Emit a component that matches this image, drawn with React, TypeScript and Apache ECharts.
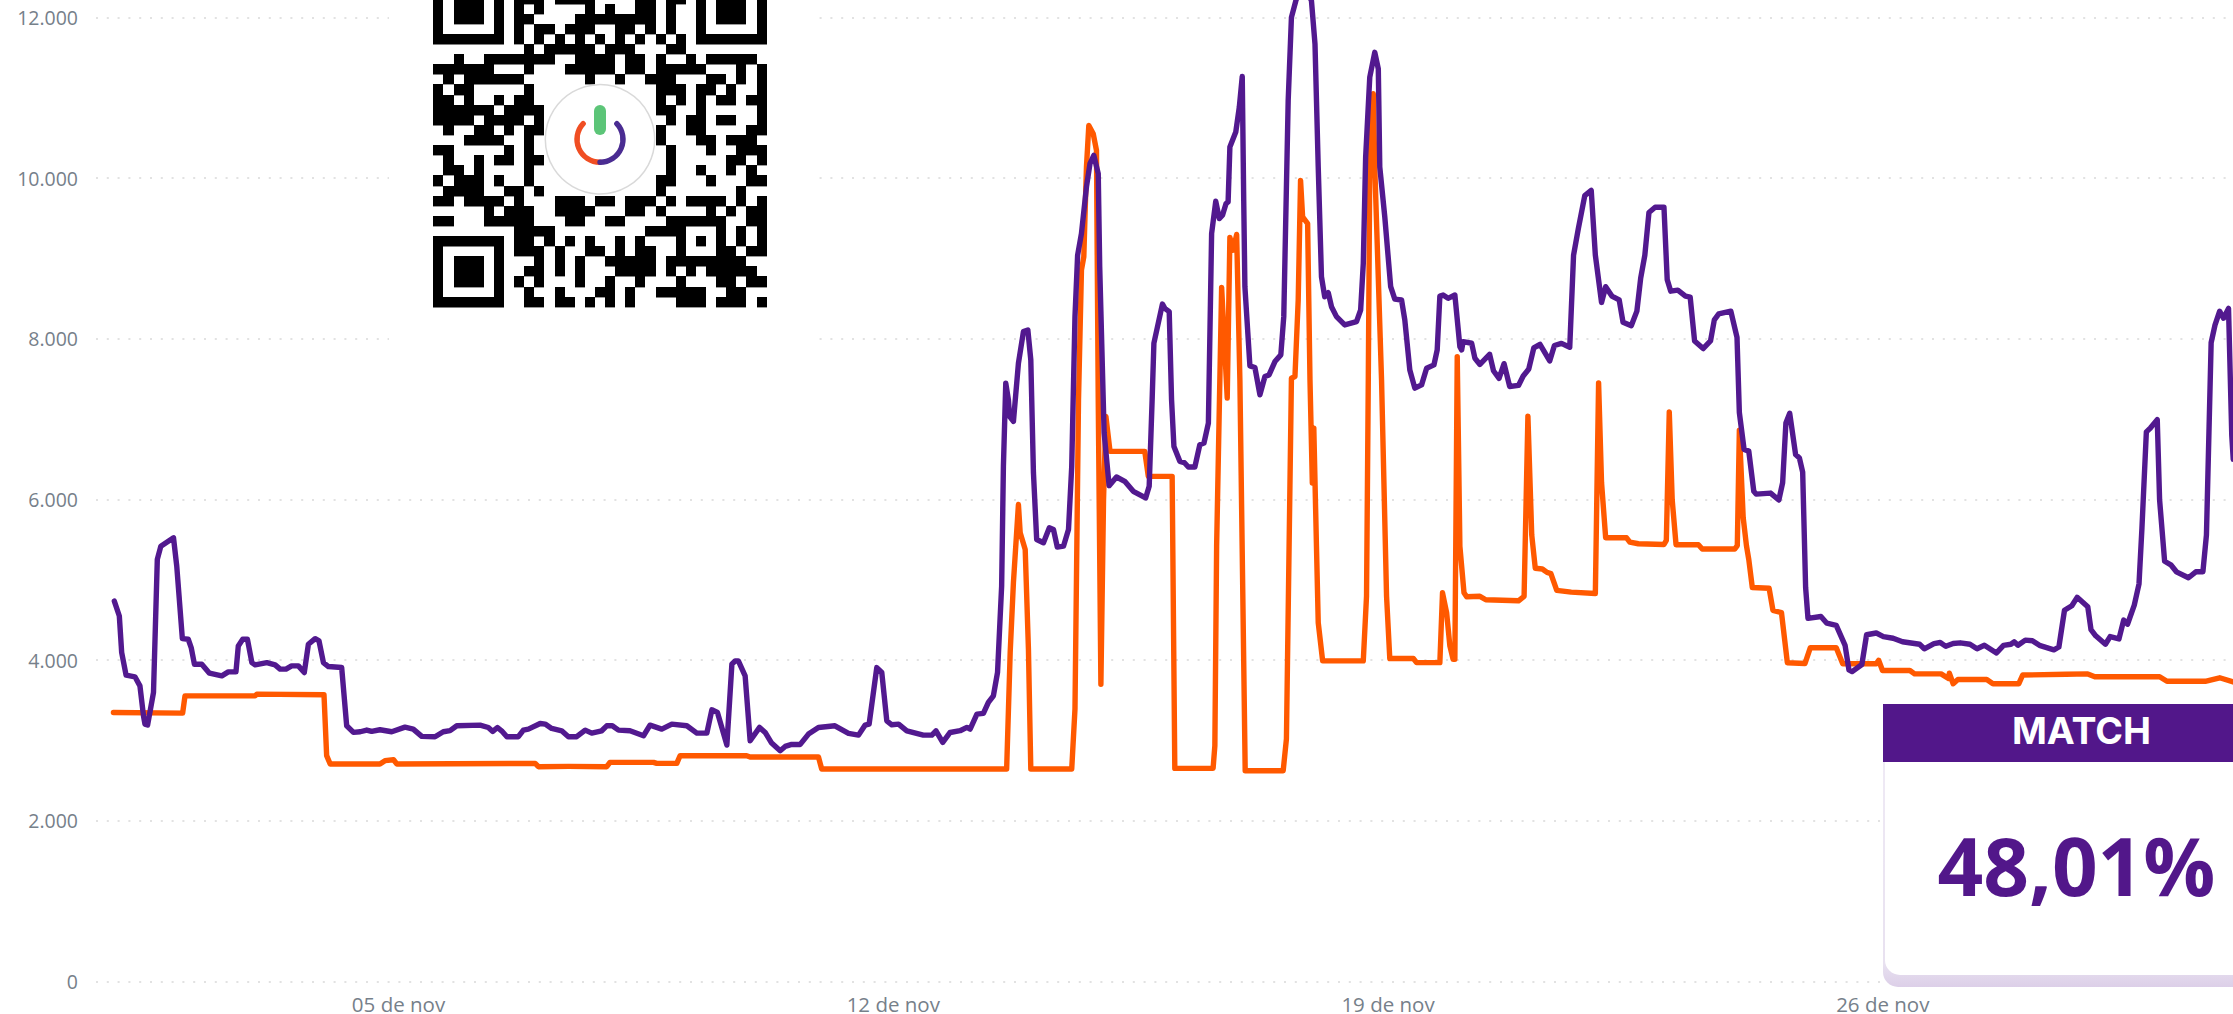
import React, { useEffect, useRef } from "react";
import * as echarts from "echarts";

// x = hours since 01 Nov 00:00
const purpleHours = [-0.5,1.2,2,3.5,6.5,8.2,9.4,9.9,10.8,12.8,14.1,15.3,19.6,20.7,22.6,24.6,25.6,26.7,29.2,31.8,36,38.2,40.8,41.6,43.1,44.7,46.2,47.3,51.3,54.1,55.8,57.8,59.7,62,64,65.4,67.7,69,70.5,72.2,76.7,78.4,80.7,83,85.2,86.9,89.7,93.7,98.2,101,103.9,108.4,111.2,113.5,115.8,123.7,126.5,128,129.6,131,132.8,136.7,138.4,140.1,144.1,145.8,148,151.4,153.7,156.5,159.4,161.6,165,166.7,168.6,170.7,174.6,179.2,181.4,185.4,188.8,193.9,197.3,200.7,202.4,204.3,207.5,209.2,210.3,211.4,213.7,215.4,218.6,220.5,222.7,225.6,227.3,229.5,232.4,235.2,238.6,244.2,248.8,252.2,254.4,255.8,258.4,260.1,261.8,263.5,265.8,268.6,274.2,277.1,278.5,280.8,283.3,286.7,289,290.1,292.4,294.6,296.3,298,299.4,300.8,301.4,302.2,303.1,303.5,304.8,306.5,308.2,309.7,310.7,311.6,312.7,315,317,318.4,319.7,321.8,323.5,324.6,325.7,326.6,327.9,329.6,330.8,332.1,333.6,334.1,335.6,337.3,339.8,342.6,345.5,349.7,350.9,351.9,352.5,355.4,356.2,357.7,358.5,359.3,361.3,362.8,364.2,366.4,368.1,369.5,371,372.1,373.5,374.7,375.8,377,377.7,378.3,380.3,381.5,382.5,383,383.4,385.1,386.8,388.5,390.2,391.6,393.6,395.6,396.6,398.1,399.2,400.7,403,406,407.2,408.3,409.4,410.5,411.7,412.8,414.5,417.3,421.3,422.7,423.6,424.4,425.8,427.5,428.7,429.2,430.9,432.9,434.3,436.6,437.7,439.4,441.1,443.4,445.1,447.6,448.7,449.6,450.7,452.4,454.7,456.4,457,457.5,460.4,461.5,463.2,466.5,467.8,469.7,471.4,473.3,476.3,477.9,479.8,481.5,483.6,486.9,488.5,490.9,493.7,495,496.6,498.8,501,502.4,504.5,505.9,508,510.5,511.8,514.6,516.5,517.8,519.2,520.6,522.7,525.7,526.8,528,530.4,533,534.6,536.1,539,541.5,542.8,544.3,548.4,550.5,551.3,552.9,554.5,556.2,557,561.9,564.7,566,567.1,568.4,570.4,571.7,572.8,573.8,574.6,579,581,584.2,587.2,588.5,589.6,592.9,594.5,597.8,600.2,603.5,606.7,612.5,614.1,617.4,619.5,621.4,623.9,626.3,629.6,632,634.5,638.6,641,643.5,644.6,645.9,648.4,650.8,653.2,658.1,659.8,661.7,664.2,666,669.6,670.7,672.3,675.6,677.2,680.2,681.8,683.1,685.4,687,688,689.5,690.8,693.2,694,695.7,697.8,699.7,703.8,706.3,708.7,709.9,711.5,712.8,714.4,715.7,717.4,718.5,719];
const purpleValues = [4736,4550,4095,3813,3793,3680,3308,3204,3192,3598,5254,5419,5523,5171,4268,4260,4157,3950,3950,3838,3805,3854,3854,4177,4260,4260,3970,3941,3970,3941,3888,3888,3929,3929,3846,4198,4268,4240,3970,3921,3908,3184,3101,3109,3130,3113,3134,3109,3167,3142,3051,3047,3109,3122,3184,3192,3162,3113,3162,3121,3047,3047,3129,3142,3212,3204,3150,3121,3047,3047,3129,3092,3121,3183,3183,3129,3121,3059,3191,3142,3204,3183,3092,3092,3382,3349,2943,3949,3990,3990,3804,2997,3163,3100,2968,2873,2926,2951,2951,3080,3162,3183,3088,3067,3191,3204,3908,3846,3245,3196,3204,3121,3067,3067,3121,2976,3100,3122,3163,3142,3329,3337,3474,3556,3846,4923,6413,7448,7241,7034,6972,7696,8090,8110,7738,6330,5502,5461,5647,5627,5407,5419,5627,6413,8276,9042,9311,9891,10180,10284,10056,8897,6827,6172,6280,6226,6102,6019,6164,7241,7945,8433,8379,8338,7241,6661,6475,6460,6404,6404,6682,6702,6951,9311,9713,9497,9539,9684,9704,10387,10574,10884,11265,9725,8649,7663,7643,7303,7531,7551,7717,7800,8276,10967,12002,12209,12450,12209,11671,10139,8773,8524,8574,8400,8276,8173,8214,8359,8938,10263,11257,11567,11360,10139,9518,8649,8495,8483,8235,7613,7386,7427,7634,7676,7862,8533,8545,8504,8545,7903,7862,7965,7945,7758,7681,7808,7603,7508,7691,7407,7420,7538,7625,7887,7931,7726,7917,7944,7895,9041,9368,9782,9847,9041,8453,8649,8532,8484,8205,8162,8345,8758,9041,9573,9638,9638,8737,8593,8606,8532,8519,7974,7879,7974,8236,8310,8344,8018,7082,6624,6602,6102,6067,6080,5993,6211,6951,7073,6559,6516,6341,4904,4521,4543,4460,4433,4185,3880,3858,3946,4316,4338,4294,4273,4229,4198,4142,4207,4220,4172,4207,4216,4198,4142,4185,4090,4185,4198,4229,4185,4250,4242,4185,4129,4164,4621,4678,4782,4665,4381,4303,4198,4294,4264,4499,4447,4686,4948,5644,6842,6886,6994,5993,5231,5187,5100,5026,5100,5100,5557,7953,8170,8344,8257,8379,6798,6500];

const orangeHours = [-0.8,22.7,23.5,47.3,47.9,70.7,71.6,72.8,89.7,91.4,94.3,95.4,142.4,143.5,153.7,166.7,167.8,182.6,183.7,190.5,191.6,214.2,215.4,238.6,239.7,302.5,303.7,304.8,306.5,307.1,308.8,309.9,310.7,324.6,325.7,326.9,327.9,328.7,329.6,330.4,331.9,333,333.6,334.5,335.4,336.2,337.6,349.4,350.6,358.7,359.6,372.6,373.2,373.8,375.5,377.4,378.3,379.4,380.6,381.7,383.5,396.4,397.5,399.2,400.4,401.5,402.3,403,404.7,405.5,406.3,406.8,407.7,408.3,409.8,423.6,424.7,425.3,425.8,427,427.5,429.8,431.5,432.6,440.6,441.7,449.6,450.5,451.9,453,454.1,454.7,455.5,456.4,457.8,458.7,463.2,465.2,476.3,478.2,479.5,480.8,482,484.4,486,487.3,489.3,494.2,502.4,503.5,504.5,505.9,513,514.1,517,525.7,526.5,527.5,528.5,529.8,537.4,538.7,549.7,550.6,551.3,552.6,553.7,554.5,555.7,561.4,562.7,565.6,567.6,573.6,575.4,584.2,586.4,597.8,598.6,599.9,609.2,610.8,619.8,622.3,622.6,623.9,625.5,635.3,637.4,646.2,647.5,662.2,669.6,672,694,696.5,709.5,714.4,719];
const orangeValues = [3349,3341,3556,3556,3577,3569,2811,2708,2708,2749,2761,2708,2715,2674,2678,2674,2728,2728,2715,2715,2811,2811,2794,2794,2645,2646,4095,4964,5937,5585,5378,4136,2646,2646,3391,7241,8855,9021,10139,10656,10553,10346,7241,3701,5999,7034,6599,6599,6288,6288,2653,2653,2935,5419,8640,7262,9261,9104,9299,7489,2624,2624,3018,7510,7531,8483,9973,9518,9435,7489,6206,6889,5419,4467,3991,3991,4798,7489,10139,11050,10139,7489,4798,4020,4020,3970,3970,4839,4591,4177,4011,4011,7779,5419,4839,4790,4795,4752,4739,4795,7038,5558,5144,5135,5092,5078,4869,4847,4830,7452,6211,5523,5523,5470,5449,5440,5492,7090,5993,5436,5436,5383,5383,5427,6864,5775,5427,5253,4904,4895,4621,4591,3968,3959,4155,4155,3955,3955,3998,3872,3872,3829,3829,3772,3837,3707,3759,3759,3707,3707,3815,3824,3829,3794,3794,3737,3737,3781,3729];

const tickHours = [96, 264, 432, 600];
const tickLabels = ["05 de nov", "12 de nov", "19 de nov", "26 de nov"];
const matchTitle = "MATCH";
const matchValue = "48,01%";

// black runs of the QR code, from row 2 on (rows 0 and 1 lie above the page)
const qrRows = [
  "0,2-4,6,8-10,12-15,20-21,23-24,26,28-30,32",
  "0,2-4,6,8,10,15,17,20-21,23,26,28-30,32",
  "0,2-4,6,8-9,14-21,23,26,28-30,32",
  "0,6,8,10-11,13-15,18-19,21,23,26,32",
  "0-6,8,10,12,14,16,18,20,22,24,26-32",
  "9,11-15,17-19,23-24",
  "2,5-11,14-17,19-20,22,25,27-31",
  "0-5,9,13-17,19-20,22-26,30,32",
  "1,3-8,15,18,21-23,27-28,30,32",
  "0,2-3,9,22-24,26-27,29,32",
  "0-1,3,6,8-9,22,24,26,28-29,31-32",
  "0-5,7-10,22-23,26,32",
  "0-3,5-8,10,23,25-26,28-29,32",
  "1,4-5,7,9-10,22,25-26,31-32",
  "3-6,9,22,26-27,29-31",
  "0-1,7,9,23,27,30-32",
  "1,4,6-7,9-10,23,29-30,32",
  "1-2,4,9,23,26,29,31",
  "0,2-4,6,9,22-23,27,31-32",
  "1-4,7-8,10,22,30",
  "0-1,3-6,8,12-14,16-17,19-21,23,25-28,30,32",
  "5,7-9,12-15,19-20,22,27,29,31-32",
  "0-1,5-9,13-14,17-18,23-28,31-32",
  "8-11,21-24,28,30,32",
  "0-6,8-9,11,13,15,18,20,24,26,28,30,32",
  "0,6,8-10,12,15-16,18,20-21,24,28-29,31-32",
  "0,2-4,6,10,12,14,17-21,23-30",
  "0,2-4,6,9-10,12,14,18-21,23,25,27-31",
  "0,2-4,6,8,10,14,17,20,24,28-29,31-32",
  "0,6,9,12,16-17,19,22-26,29-30",
  "0-6,9-10,12-13,15,17,19,24-26,28-30,32",
];

const zip = (xs: number[], ys: number[]) => xs.map((x, i) => [x, ys[i]]);

function qrElements() {
  const cell = 10.1, x0 = 433.3, y0 = -6.4;
  const out: any[] = [];
  qrRows.forEach((row, r) => {
    const top = Math.round(y0 + r * cell);
    const bottom = Math.round(y0 + (r + 1) * cell);
    row.split(",").forEach((run) => {
      const [a, b] = run.split("-").map(Number);
      const end = b === undefined ? a : b;
      const left = Math.round(x0 + a * cell);
      const right = Math.round(x0 + (end + 1) * cell);
      out.push({
        type: "rect", z: 101, silent: true,
        shape: { x: left, y: top, width: right - left, height: bottom - top + 0.4 },
        style: { fill: "#000" },
      });
    });
  });
  return out;
}

const font = "'Open Sans', sans-serif";

export default function App() {
  const ref = useRef<HTMLDivElement>(null);
  useEffect(() => {
    document.body.style.margin = "0";
    const chart = echarts.init(ref.current!, undefined, { renderer: "svg" });
    const cx = 600, cy = 139.3;
    chart.setOption({
      animation: false,
      backgroundColor: "#fff",
      grid: { left: 96, right: 0, top: 17.5, bottom: 30.5, containLabel: false },
      xAxis: {
        type: "value", min: -6.72, max: 718.92, splitNumber: 5,
        axisLine: { show: false }, axisTick: { show: false }, splitLine: { show: false },
        axisLabel: {
          customValues: tickHours,
          formatter: (v: number) => tickLabels[tickHours.indexOf(v)] ?? "",
          color: "#76808a", fontFamily: font, fontSize: 20.5, margin: 14, lineHeight: 16, hideOverlap: false,
        },
      },
      yAxis: {
        type: "value", min: 0, max: 12000, interval: 2000,
        axisLine: { show: false }, axisTick: { show: false },
        splitLine: { lineStyle: { type: [2, 8.8], width: 2, color: "#e2e2e2" } },
        axisLabel: {
          formatter: (v: number) => (v === 0 ? "0" : `${v / 1000}.000`),
          color: "#76808a", fontFamily: font, fontSize: 19.5, margin: 18,
        },
      },
      series: [
        {
          type: "line", name: "orange", data: zip(orangeHours, orangeValues), clip: false,
          showSymbol: false, smooth: false, z: 3,
          lineStyle: { color: "#ff5900", width: 5.4, join: "round", cap: "round" },
        },
        {
          type: "line", name: "purple", data: zip(purpleHours, purpleValues), clip: false,
          showSymbol: false, smooth: false, z: 4,
          lineStyle: { color: "#52198f", width: 5.4, join: "round", cap: "round" },
        },
      ],
      graphic: {
        elements: [
          { type: "rect", z: 100, silent: true, shape: { x: 389, y: 0, width: 423, height: 346 }, style: { fill: "#fff" } },
          ...qrElements(),
          { type: "circle", z: 102, silent: true, shape: { cx, cy, r: 54.7 }, style: { fill: "#fff", stroke: "#d9d9d9", lineWidth: 1.5 } },
          { type: "rect", z: 103, silent: true, shape: { x: cx - 6, y: 105, width: 12, height: 30, r: 6 }, style: { fill: "#5cc578" } },
          {
            type: "arc", z: 103, silent: true,
            shape: { cx, cy, r: 23, startAngle: Math.PI / 2, endAngle: (223 * Math.PI) / 180, clockwise: true },
            style: { stroke: "#f04e23", lineWidth: 5.4, fill: "none", lineCap: "round" },
          },
          {
            type: "arc", z: 103, silent: true,
            shape: { cx, cy, r: 23, startAngle: (-43 * Math.PI) / 180, endAngle: Math.PI / 2, clockwise: true },
            style: { stroke: "#4a2c92", lineWidth: 5.4, fill: "none", lineCap: "round" },
          },
          {
            type: "rect", z: 110, silent: true,
            shape: { x: 1883, y: 755, width: 350, height: 232, r: [0, 0, 0, 15] },
            style: {
              fill: new echarts.graphic.LinearGradient(0, 0, 0, 1, [
                { offset: 0, color: "#efeaf5" },
                { offset: 0.9, color: "#e8e1f0" },
                { offset: 1, color: "#dccfe8" },
              ]),
            },
          },
          {
            type: "rect", z: 111, silent: true,
            shape: { x: 1885, y: 760, width: 348, height: 215, r: [0, 0, 0, 15] },
            style: { fill: "#fff" },
          },
          { type: "rect", z: 112, silent: true, shape: { x: 1883, y: 704, width: 350, height: 58 }, style: { fill: "#52178a" } },
          {
            type: "text", z: 113, silent: true, x: 2081.5, y: 730,
            style: { text: matchTitle, fill: "#fff", font: "700 37.5px Inter, sans-serif", textAlign: "center", textVerticalAlign: "middle" },
          },
          {
            type: "text", z: 113, silent: true, x: 2076.5, y: 864,
            style: { text: matchValue, fill: "#52178a", font: "700 80px 'Open Sans', sans-serif", textAlign: "center", textVerticalAlign: "middle" },
          },
        ],
      },
    });
    return () => chart.dispose();
  }, []);
  return <div ref={ref} style={{ position: "absolute", left: 0, top: 0, width: 2233, height: 1014 }} />;
}
